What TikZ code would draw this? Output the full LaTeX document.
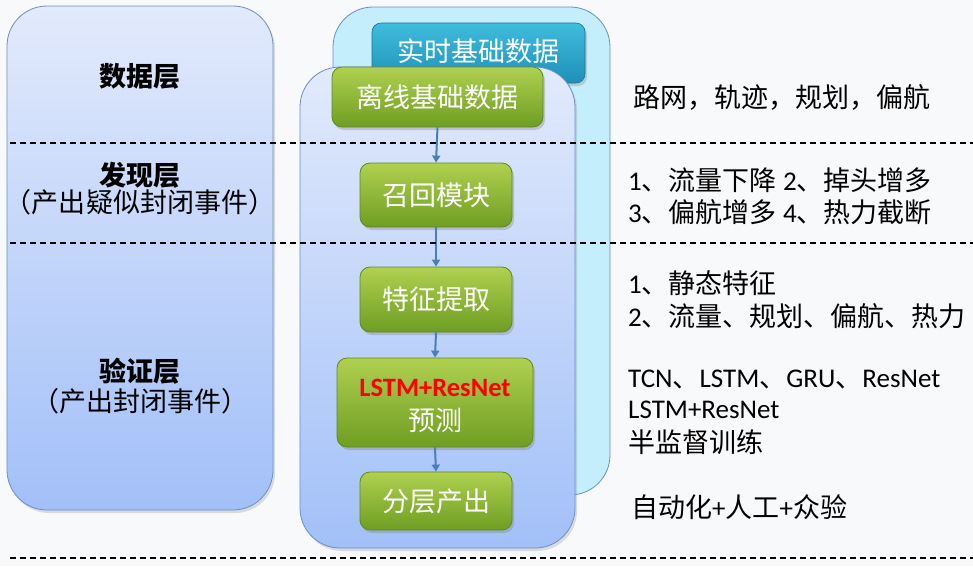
\documentclass[tikz,border=0pt]{standalone}
\usepackage{fontspec}
\setmainfont{Carlito}
\newfontfamily\cjk{Noto Sans CJK SC}
\usetikzlibrary{shadows,arrows.meta}
\definecolor{bgc}{HTML}{F8F9FA}
\definecolor{pantop}{HTML}{E2EAFC}
\definecolor{panbot}{HTML}{A2C0F8}
\definecolor{panline}{HTML}{6A8FC8}
\definecolor{cyanfill}{HTML}{C4EEFC}
\definecolor{rttop}{HTML}{40BCDC}
\definecolor{rtbot}{HTML}{1E90B8}
\definecolor{grtop}{HTML}{B0D050}
\definecolor{grbot}{HTML}{6E9E22}
\definecolor{grline}{HTML}{5E8A1E}
\definecolor{arr}{HTML}{4A7EBB}
\tikzset{
  panel/.style={draw=panline, line width=0.8pt, rounded corners=40pt, top color=pantop, bottom color=panbot, inner sep=0pt},
  greenbox/.style={draw=grline, line width=0.8pt, rounded corners=10pt, top color=grtop, bottom color=grbot, inner sep=0pt, text=white, font=\cjk\fontsize{27}{30}\selectfont, align=center,
    drop shadow={shadow xshift=2pt, shadow yshift=-3pt, opacity=0.35}},
  layer/.style={font=\cjk\bfseries\fontsize{27}{30}\selectfont},
  sublayer/.style={font=\cjk\fontsize{27}{30}\selectfont},
  note/.style={anchor=west, inner sep=0pt, font=\fontsize{27}{30}\selectfont},
  sep/.style={dashed, dash pattern=on 6pt off 4pt, line width=1.4pt, black},
  flow/.style={draw=arr, line width=2pt, -{Triangle[length=7pt,width=8pt]}}
}
\begin{document}
\begin{tikzpicture}[x=1pt,y=-1pt]
\useasboundingbox (0,0) rectangle (973,566);
\fill[bgc] (0,0) rectangle (973,566);
% left panel
\node[panel, minimum width=266pt, minimum height=504pt, drop shadow={shadow xshift=2pt, shadow yshift=-3pt, opacity=0.25}] (left) at (140,258) {};
\node[layer] (l1) at (140,76) {数据层};
\node[layer] (l2) at (140,175) {发现层};
\node[sublayer] (l2s) at (140,202) {（产出疑似封闭事件）};
\node[layer] (l3) at (140,371) {验证层};
\node[sublayer] (l3s) at (140,401) {（产出封闭事件）};
% back cyan panel
\node[draw=panline, line width=0.8pt, rounded corners=40pt, fill=cyanfill, minimum width=277pt, minimum height=488pt, inner sep=0pt] (cyanp) at (471.5,251) {};
\node[draw=rtbot!80!black, line width=0.6pt, rounded corners=9pt, top color=rttop, bottom color=rtbot, minimum width=213pt, minimum height=60pt, inner sep=0pt, drop shadow={shadow xshift=2pt, shadow yshift=-3pt, opacity=0.3}] (rt) at (478.5,53) {};
\node[text=white, font=\cjk\fontsize{27}{30}\selectfont] (rtt) at (478,51) {实时基础数据};
% inner panel
\node[panel, minimum width=275pt, minimum height=481pt, drop shadow={shadow xshift=2pt, shadow yshift=-3pt, opacity=0.25}] (inner) at (437.5,307.5) {};
% green boxes
\node[greenbox, minimum width=211pt, minimum height=60pt] (off) at (437.5,97) {离线基础数据};
\node[greenbox, minimum width=152pt, minimum height=64pt] (rec) at (436,195) {召回模块};
\node[greenbox, minimum width=152pt, minimum height=65pt] (fea) at (436,299.5) {特征提取};
\node[greenbox, minimum width=196pt, minimum height=89pt] (lst) at (435,402.5) {};
\node[text=red, font=\bfseries\fontsize{26.5}{28}\selectfont] (lstt) at (435,388) {LSTM+ResNet};
\node[text=white, font=\cjk\fontsize{27}{30}\selectfont] (lstc) at (435,420) {预测};
\node[greenbox, minimum width=152pt, minimum height=58pt] (out) at (436,501) {分层产出};
% arrows
\draw[flow] (off.south) -- (rec.north);
\draw[flow] (rec.south) -- (fea.north);
\draw[flow] (fea.south) -- (lst.north);
\draw[flow] (lst.south) -- (out.north);
% separators
\coordinate (s1a) at (10,143); \coordinate (s1b) at (973,143);
\coordinate (s2a) at (10,243); \coordinate (s2b) at (973,243);
\coordinate (s3a) at (10,558); \coordinate (s3b) at (973,558);
\draw[sep] (s1a) -- (s1b);
\draw[sep] (s2a) -- (s2b);
\draw[sep] (s3a) -- (s3b);
% notes
\node[note] (n1) at (633,97) {\cjk 路网，轨迹，规划，偏航};
\node[note] (n2) at (628,180) {1{\cjk 、流量下降} 2{\cjk 、掉头增多}};
\node[note] (n3) at (628,212) {3{\cjk 、偏航增多} 4{\cjk 、热力截断}};
\node[note] (n4) at (628,283) {1{\cjk 、静态特征}};
\node[note] (n5) at (628,316) {2{\cjk 、流量、规划、偏航、热力}};
\node[note] (n6) at (628,379) {TCN{\cjk 、}LSTM{\cjk 、}GRU{\cjk 、}ResNet};
\node[note] (n7) at (628,410) {LSTM+ResNet};
\node[note] (n8) at (628,442) {\cjk 半监督训练};
\node[note] (n9) at (631,507) {{\cjk 自动化}+{\cjk 人工}+{\cjk 众验}};
\end{tikzpicture}
\end{document}
